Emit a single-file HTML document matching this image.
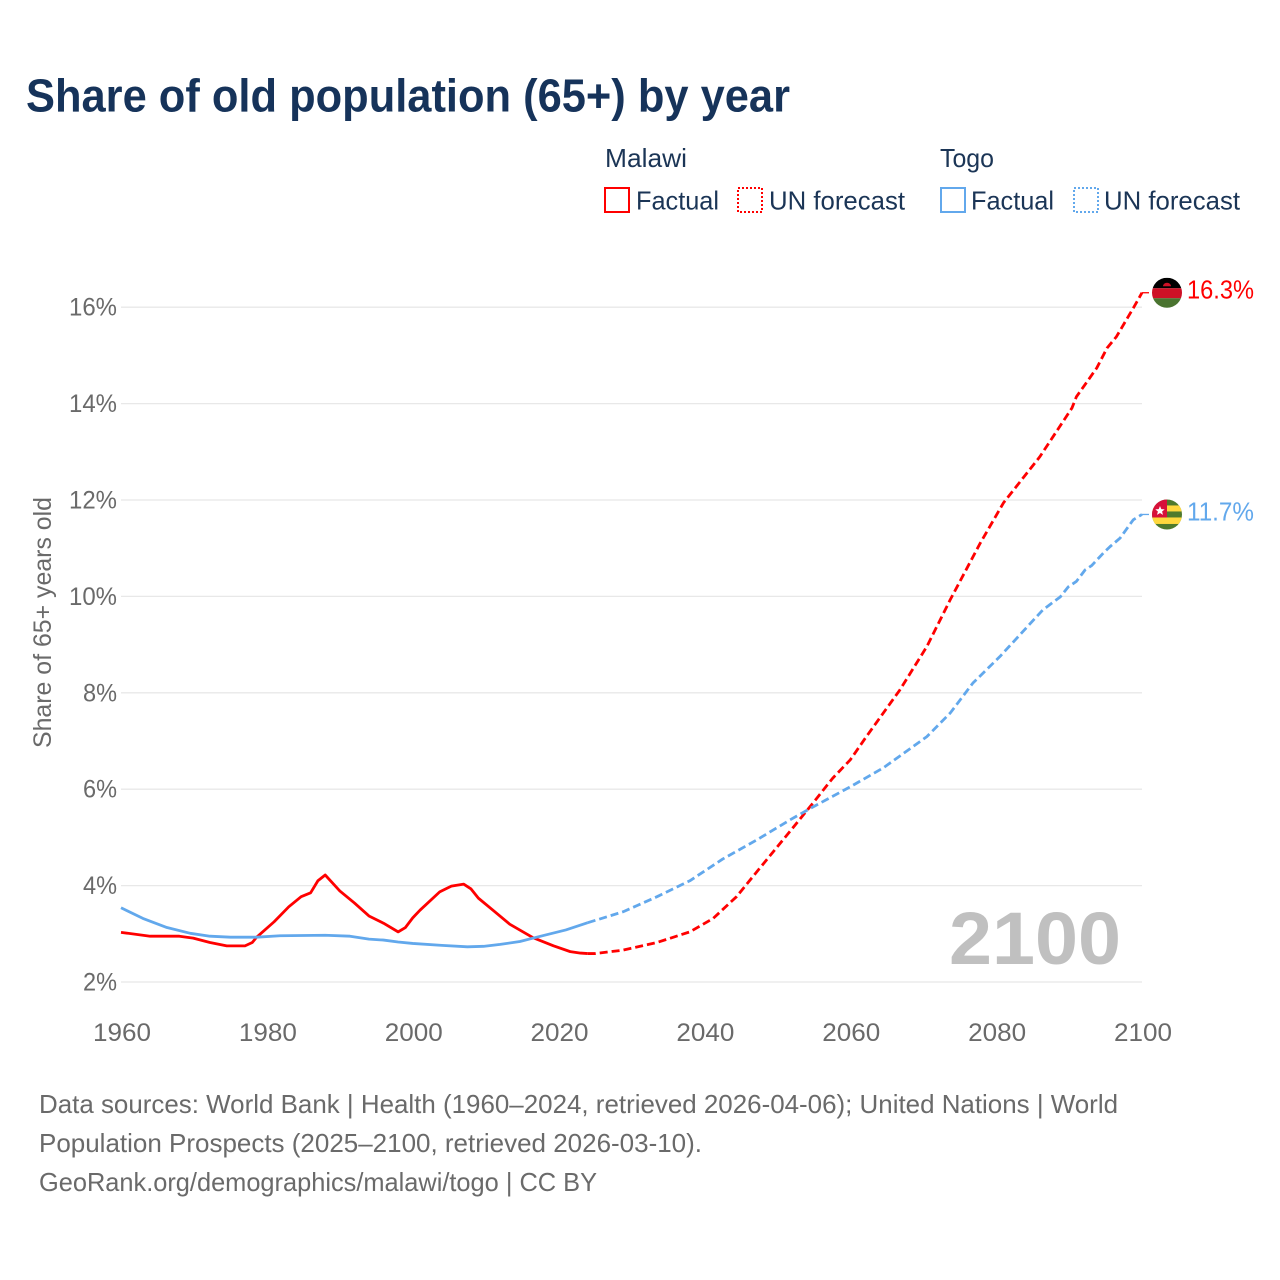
<!DOCTYPE html>
<html lang="en">
<head>
<meta charset="utf-8">
<title>Share of old population (65+) by year</title>
<style>
html,body{margin:0;padding:0;background:#fff;width:1280px;height:1280px;overflow:hidden}
svg{display:block}
text{font-family:"Liberation Sans",sans-serif}
.navy{fill:#1b3556}
.gray{fill:#6a6a6a}
</style>
</head>
<body>
<svg id="chart" xmlns="http://www.w3.org/2000/svg" width="1280" height="1280" viewBox="0 0 1280 1280">
  <rect width="1280" height="1280" fill="#ffffff"/>
  <text x="26" y="111.5" font-size="46" font-weight="700" fill="#16335a" textLength="764" lengthAdjust="spacingAndGlyphs">Share of old population (65+) by year</text>

  <g font-size="26">
    <text class="navy" x="605" y="167" textLength="82" lengthAdjust="spacingAndGlyphs">Malawi</text>
    <text class="navy" x="940" y="167" textLength="54" lengthAdjust="spacingAndGlyphs">Togo</text>
    <rect x="605" y="188" width="24" height="24" fill="none" stroke="#ff0000" stroke-width="2"/>
    <text class="navy" x="636" y="209.5" textLength="83" lengthAdjust="spacingAndGlyphs">Factual</text>
    <rect x="738" y="188" width="24" height="24" fill="none" stroke="#ff0000" stroke-width="2" stroke-dasharray="2 2"/>
    <text class="navy" x="769" y="209.5" textLength="136" lengthAdjust="spacingAndGlyphs">UN forecast</text>
    <rect x="941" y="188" width="24" height="24" fill="none" stroke="#62a8ec" stroke-width="2"/>
    <text class="navy" x="971" y="209.5" textLength="83" lengthAdjust="spacingAndGlyphs">Factual</text>
    <rect x="1074" y="188" width="24" height="24" fill="none" stroke="#62a8ec" stroke-width="2" stroke-dasharray="2 2"/>
    <text class="navy" x="1104" y="209.5" textLength="136" lengthAdjust="spacingAndGlyphs">UN forecast</text>
  </g>

  <g id="grid"></g>
  <g id="yticks" font-size="25"></g>
  <g id="xticks" font-size="25"></g>
  <text class="gray" transform="translate(51 622.5) rotate(-90)" text-anchor="middle" font-size="25" textLength="251" lengthAdjust="spacingAndGlyphs">Share of 65+ years old</text>
  <text x="949" y="964" font-size="74" font-weight="700" fill="#c0c0c0" textLength="172" lengthAdjust="spacingAndGlyphs">2100</text>

  <g id="series"></g>

  <defs>
    <clipPath id="clip-mw"><circle id="clip-mw-c" cx="1167" cy="292" r="15"/></clipPath>
    <clipPath id="clip-tg"><circle id="clip-tg-c" cx="1167" cy="514" r="15"/></clipPath>
  </defs>
  <g id="flag-malawi" clip-path="url(#clip-mw)">
    <rect x="1152" y="277" width="30" height="10.5" fill="#000000"/>
    <rect x="1152" y="287.5" width="30" height="10" fill="#ce1126"/>
    <rect x="1152" y="297.5" width="30" height="10.5" fill="#4a7430"/>
    <path d="M1163 285.5a4 3.5 0 0 1 8 0z" fill="#ce1126"/>
  </g>
  <g id="flag-togo" clip-path="url(#clip-tg)">
    <rect x="1152" y="499" width="30" height="31" fill="#4f7a2c"/>
    <rect x="1152" y="505" width="30" height="6" fill="#ffd83d"/>
    <rect x="1152" y="517" width="30" height="6.5" fill="#ffd83d"/>
    <rect x="1152" y="499" width="15" height="18" fill="#d8103a"/>
    <path d="M1160 505.5l1.3 3.2 3.4.2-2.6 2.2.9 3.3-3-1.9-3 1.9.9-3.3-2.6-2.2 3.4-.2z" fill="#ffffff"/>
  </g>
  <text id="value-malawi" x="1187" y="298" font-size="26" fill="#ff0000" textLength="67" lengthAdjust="spacingAndGlyphs"></text>
  <text id="value-togo" x="1187" y="520" font-size="26" fill="#62a8ec" textLength="67" lengthAdjust="spacingAndGlyphs"></text>

  <g font-size="26">
    <text class="gray" x="39" y="1113" textLength="1079" lengthAdjust="spacingAndGlyphs">Data sources: World Bank | Health (1960–2024, retrieved 2026-04-06); United Nations | World</text>
    <text class="gray" x="39" y="1152" textLength="663" lengthAdjust="spacingAndGlyphs">Population Prospects (2025–2100, retrieved 2026-03-10).</text>
    <text class="gray" x="39" y="1191" textLength="558" lengthAdjust="spacingAndGlyphs">GeoRank.org/demographics/malawi/togo | CC BY</text>
  </g>
</svg>

<script>
const yTickValues = [2, 4, 6, 8, 10, 12, 14, 16];
const xTickYears = [1960, 1980, 2000, 2020, 2040, 2060, 2080, 2100];

const malawiFactualYears = [1960,1964,1968,1969.9,1972.2,1974.5,1977,1978,1978.6,1981,1983,1984.7,1986,1987,1988,1990,1992,1994,1996,1998,1999,2000,2001,2003.7,2005.3,2007,2008,2009,2011,2013.3,2016.5,2019.3,2021.6,2023,2024];
const malawiFactualValues = [3.03,2.95,2.95,2.91,2.82,2.75,2.75,2.82,2.93,3.25,3.56,3.77,3.85,4.10,4.22,3.89,3.64,3.37,3.22,3.04,3.13,3.33,3.49,3.87,3.99,4.03,3.93,3.74,3.49,3.20,2.92,2.75,2.63,2.60,2.59];

const malawiForecastYears = [2024,2025,2028.8,2033.5,2038,2041.2,2044.4,2047.2,2051.7,2054.5,2057.6,2060,2062.2,2066.8,2070.5,2073.7,2077.8,2081,2086,2090.4,2091,2093.8,2095.2,2096.5,2098.8,2100];
const malawiForecastValues = [2.59,2.59,2.66,2.82,3.04,3.32,3.77,4.29,5.12,5.64,6.23,6.61,7.09,8.06,8.96,9.93,11.10,11.94,12.90,13.91,14.14,14.74,15.15,15.39,15.98,16.30];

const togoFactualYears = [1960,1963,1966.3,1969.5,1972.2,1975,1978.6,1981.8,1988,1991.4,1994,1996,1998,2000,2004,2007.5,2009.7,2012,2014.7,2017,2021,2024];
const togoFactualValues = [3.54,3.32,3.13,3.01,2.95,2.93,2.93,2.96,2.97,2.95,2.89,2.87,2.83,2.80,2.76,2.73,2.74,2.78,2.84,2.93,3.08,3.23];

const togoForecastYears = [2024,2028.9,2033.5,2038,2042.5,2047.2,2051.7,2054.5,2060,2064.5,2070.5,2073.7,2076.8,2080.5,2086.4,2088.8,2089.9,2091,2092.2,2093.1,2094.7,2095.6,2097,2098.8,2100];
const togoForecastValues = [3.23,3.46,3.77,4.10,4.55,4.95,5.36,5.60,6.05,6.44,7.09,7.58,8.20,8.75,9.72,9.99,10.20,10.31,10.55,10.64,10.90,11.03,11.21,11.59,11.70];

const SVG_NS = 'http://www.w3.org/2000/svg';
const X0 = 121, X1 = 1142, Y2PCT = 982, PX_PER_PCT = 48.2;
function xScale(year) { return X0 + (year - 1960) * (X1 - X0) / 140; }
function yScale(value) { return Y2PCT - (value - 2) * PX_PER_PCT; }
function make(tag, parentId) {
  const el = document.createElementNS(SVG_NS, tag);
  document.getElementById(parentId).appendChild(el);
  return el;
}
function pathFrom(years, values) {
  return years.map((yr, i) => (i ? 'L' : 'M') + xScale(yr).toFixed(2) + ' ' + yScale(values[i]).toFixed(2)).join('');
}

yTickValues.forEach(v => {
  const line = make('line', 'grid');
  
  
  line.setAttribute('x1', X0);
  line.setAttribute('x2', X1);
  line.setAttribute('y1', yScale(v));
  line.setAttribute('y2', yScale(v));
  line.setAttribute('stroke', '#e8e8e8');
  line.setAttribute('stroke-width', '1.3');

  const label = make('text', 'yticks');
  
  
  label.setAttribute('class', 'gray');
  label.setAttribute('x', 117);
  label.setAttribute('y', yScale(v) + 8.5);
  label.setAttribute('text-anchor', 'end');
  label.setAttribute('textLength', String(v).length === 1 ? 34 : 48);
  label.setAttribute('lengthAdjust', 'spacingAndGlyphs');
  label.textContent = v + '%';
});

xTickYears.forEach(yr => {
  const label = make('text', 'xticks');
  
  
  label.setAttribute('class', 'gray');
  label.setAttribute('x', xScale(yr) + 1);
  label.setAttribute('y', 1041);
  label.setAttribute('text-anchor', 'middle');
  label.setAttribute('textLength', 58);
  label.setAttribute('lengthAdjust', 'spacingAndGlyphs');
  label.textContent = yr;
});

function drawLine(name, years, values, color, dashed) {
  const p = make('path', 'series');
  
  
  p.setAttribute('d', pathFrom(years, values));
  p.setAttribute('fill', 'none');
  p.setAttribute('stroke', color);
  p.setAttribute('stroke-width', '2.8');
  p.setAttribute('stroke-linejoin', 'round');
  if (dashed) p.setAttribute('stroke-dasharray', '8 4');
}
function drawLeader(name, value, color) {
  const l = make('line', 'series');
  
  
  l.setAttribute('x1', X1);
  l.setAttribute('x2', X1 + 7);
  l.setAttribute('y1', yScale(value));
  l.setAttribute('y2', yScale(value));
  l.setAttribute('stroke', color);
  l.setAttribute('stroke-width', '1.3');
}

const RED = '#ff0000', BLUE = '#62a8ec';
drawLine('malawi-factual-line', malawiFactualYears, malawiFactualValues, RED, false);
drawLine('malawi-forecast-line', malawiForecastYears, malawiForecastValues, RED, true);
drawLine('togo-factual-line', togoFactualYears, togoFactualValues, BLUE, false);
drawLine('togo-forecast-line', togoForecastYears, togoForecastValues, BLUE, true);

const malawiLast = malawiForecastValues[malawiForecastValues.length - 1];
const togoLast = togoForecastValues[togoForecastValues.length - 1];
drawLeader('malawi-leader-line', malawiLast, RED);
drawLeader('togo-leader-line', togoLast, BLUE);

function placeEnd(flagId, clipId, labelId, value) {
  const cy = yScale(value);
  const dy = cy - parseFloat(document.getElementById(clipId).getAttribute('cy'));
  document.getElementById(flagId).setAttribute('transform', 'translate(0 ' + dy.toFixed(2) + ')');
  const label = document.getElementById(labelId);
  label.setAttribute('y', (cy + 6).toFixed(2));
  label.textContent = value.toFixed(1) + '%';
}
placeEnd('flag-malawi', 'clip-mw-c', 'value-malawi', malawiLast);
placeEnd('flag-togo', 'clip-tg-c', 'value-togo', togoLast);
</script>
</body>
</html>
